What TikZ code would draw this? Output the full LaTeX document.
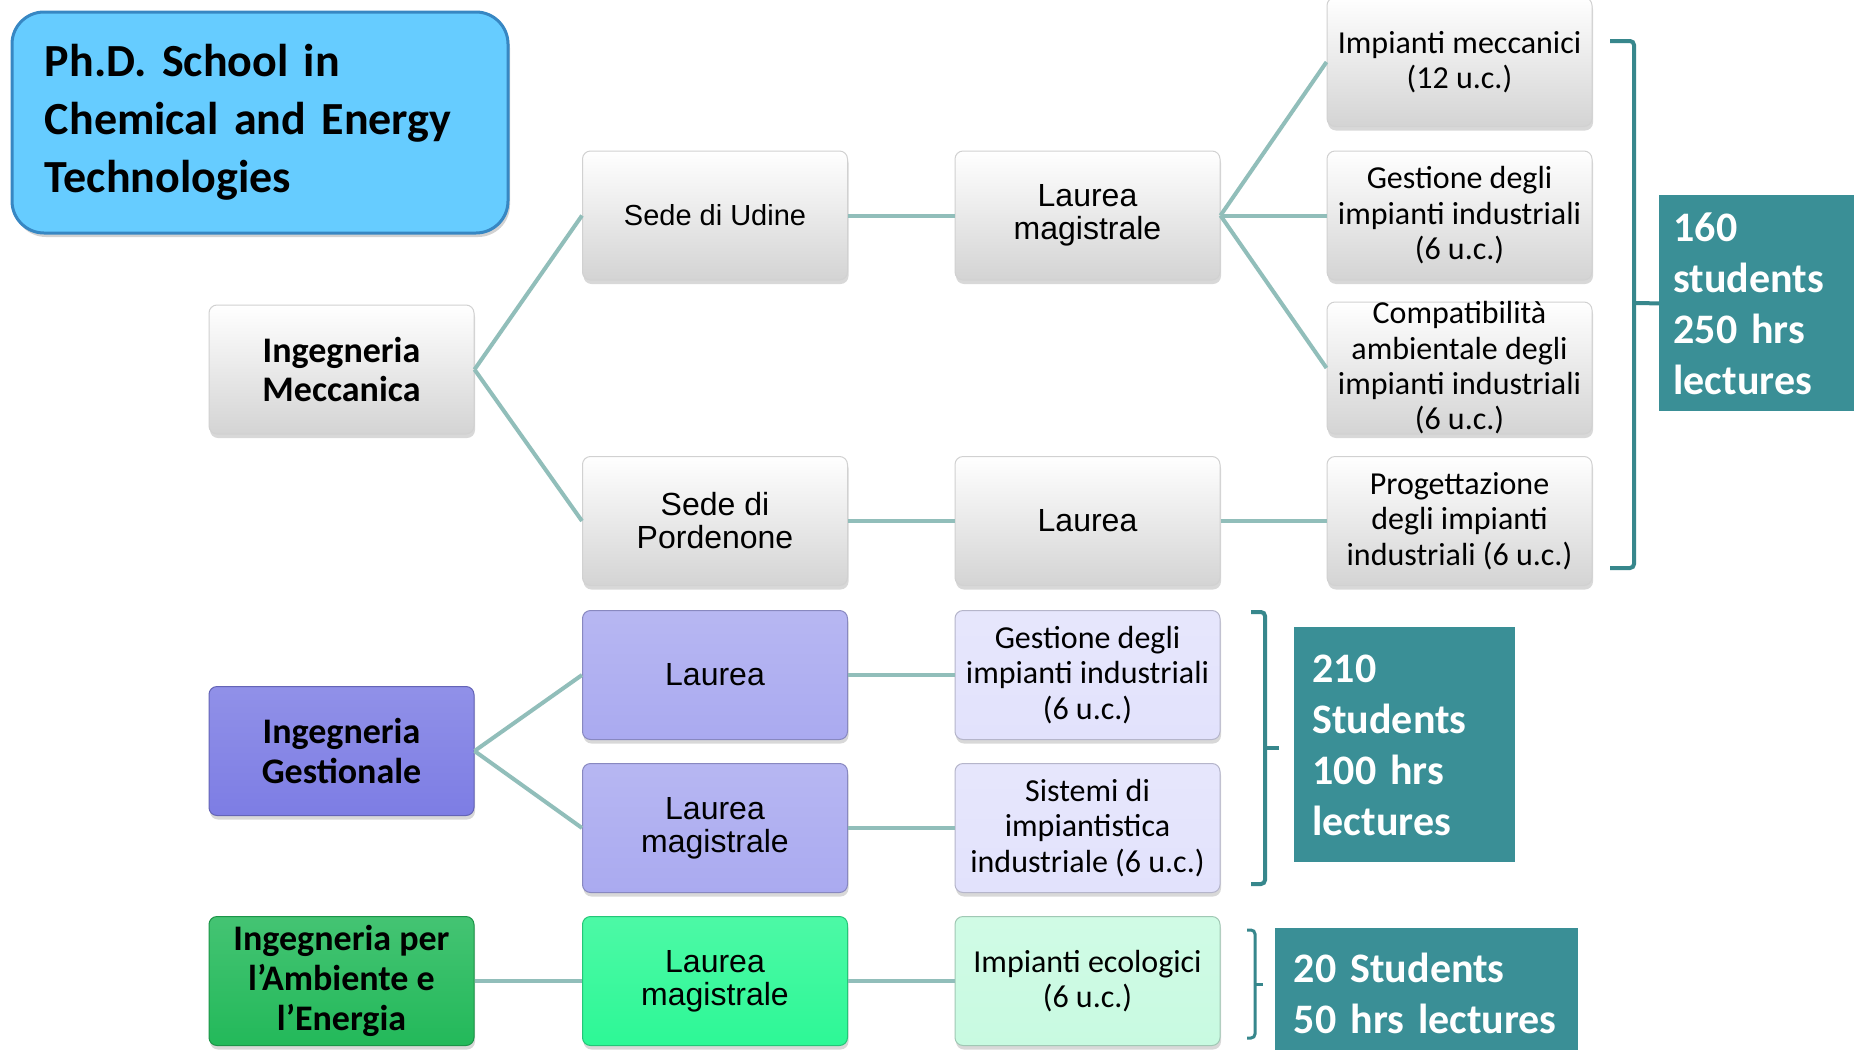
\documentclass[tikz,border=0pt]{standalone}
\usepackage{fontspec}
\setmainfont{Carlito}
\newfontfamily\arialfont{Liberation Sans}
\usetikzlibrary{shadows}

\definecolor{phdfill}{RGB}{102,204,255}
\definecolor{phdedge}{RGB}{55,135,195}
\definecolor{linkcol}{RGB}{145,190,186}
\definecolor{tealbox}{RGB}{58,143,150}
\definecolor{bracketcol}{RGB}{55,135,140}
\definecolor{purpleA}{RGB}{125,125,228}
\definecolor{purpleB}{RGB}{170,170,240}
\definecolor{purpleC}{RGB}{226,226,252}
\definecolor{greenA}{RGB}{35,185,90}
\definecolor{greenB}{RGB}{45,248,150}
\definecolor{greenC}{RGB}{200,250,225}

\begin{document}
\begin{tikzpicture}[x=0.5pt,y=-0.5pt,
  unitbox/.style={rounded corners=4pt, minimum width=132.5pt, minimum height=64.5pt, inner sep=1pt, align=center, line width=0.5pt,
    drop shadow={opacity=0.3, shadow xshift=0.5pt, shadow yshift=-2pt}},
  graybox/.style={unitbox, draw=black!18, top color=white, bottom color=black!17},
  tintbox/.style={unitbox, draw=#1!80!black, top color=#1!85!white, bottom color=#1},
  titlebox/.style={rounded corners=16pt, fill=phdfill, draw=phdedge, line width=1.5pt, minimum width=248pt, minimum height=110.5pt,
    text width=215pt, inner xsep=0pt, align=left, font=\fontsize{23}{29}\selectfont\bfseries,
    drop shadow={opacity=0.35, shadow xshift=1pt, shadow yshift=-2pt}},
  facname/.style={font=\fontsize{18}{19.8}\selectfont\bfseries},
  sansname/.style={font=\arialfont\fontsize{16}{16.5}\selectfont},
  coursename/.style={font=\fontsize{16}{17.7}\selectfont},
  statbox/.style={fill=tealbox, text=white, align=left, anchor=north west, inner ysep=0pt, font=\fontsize{21}{25.5}\selectfont\bfseries},
  link/.style={draw=linkcol, line width=2pt},
  bracket/.style={draw=bracketcol, line width=2pt, rounded corners=2pt}]

\fill[white] (0,0) rectangle (1854,1050);
\useasboundingbox (0,0) rectangle (1854,1050);

% Title
\node[titlebox] (phd) at (260,122.5) {Ph.D. School in\\Chemical and Energy\\Technologies};

% Degree courses
\node[graybox, facname] (mecc) at (341.5,369.5) {Ingegneria\\Meccanica};
\node[tintbox=purpleA, facname] (gest) at (341.5,751) {Ingegneria\\Gestionale};
\node[tintbox=greenA, facname] (amb) at (341.5,981) {Ingegneria per\\l’Ambiente e\\l’Energia};

% Seats and levels
\node[graybox, sansname] (udine) at (715,215.5) {\fontsize{14.5}{16.5}\selectfont Sede di Udine};
\node[graybox, sansname] (porde) at (715,521) {Sede di\\Pordenone};
\node[tintbox=purpleB, sansname] (gestL) at (715,675) {Laurea};
\node[tintbox=purpleB, sansname] (gestLM) at (715,828) {Laurea\\magistrale};
\node[tintbox=greenB, sansname] (ambLM) at (715,981) {Laurea\\magistrale};

\node[graybox, sansname] (udineLM) at (1087.5,215.5) {Laurea\\magistrale};
\node[graybox, sansname] (pordeL) at (1087.5,521) {Laurea};

% Lectures
\node[tintbox=purpleC, coursename] (gestC1) at (1087.5,675) {Gestione degli\\impianti industriali\\(6 u.c.)};
\node[tintbox=purpleC, coursename] (gestC2) at (1087.5,828) {Sistemi di\\impiantistica\\industriale (6 u.c.)};
\node[tintbox=greenC, coursename] (ambC) at (1087.5,981) {Impianti ecologici\\(6 u.c.)};

\node[graybox, coursename] (meccC1) at (1459.5,62) {Impianti meccanici\\(12 u.c.)};
\node[graybox, coursename] (meccC2) at (1459.5,215.5) {Gestione degli\\impianti industriali\\(6 u.c.)};
\node[graybox, coursename, minimum height=66pt, inner ysep=-2pt] (meccC3) at (1459.5,368) {Compatibilità\\ambientale degli\\impianti industriali\\(6 u.c.)};
\node[graybox, coursename] (meccC4) at (1459.5,521) {Progettazione\\degli impianti\\industriali (6 u.c.)};

% Links
\draw[link] (mecc.east) -- (udine.west);
\draw[link] (mecc.east) -- (porde.west);
\draw[link] (udine.east) -- (udineLM.west);
\draw[link] (porde.east) -- (pordeL.west);
\draw[link] (udineLM.east) -- (meccC1.west);
\draw[link] (udineLM.east) -- (meccC2.west);
\draw[link] (udineLM.east) -- (meccC3.west);
\draw[link] (pordeL.east) -- (meccC4.west);
\draw[link] (gest.east) -- (gestL.west);
\draw[link] (gest.east) -- (gestLM.west);
\draw[link] (gestL.east) -- (gestC1.west);
\draw[link] (gestLM.east) -- (gestC2.west);
\draw[link] (amb.east) -- (ambLM.west);
\draw[link] (ambLM.east) -- (ambC.west);

% Totals
\node[statbox, minimum width=100pt, minimum height=108pt, text width=86pt, inner xsep=7pt] (s160) at (1659,195) {160\\students\\250 hrs\\lectures};
\node[statbox, minimum height=117.5pt, text width=92.5pt, inner xsep=9pt] (s210) at (1294,627) {210\\Students\\100 hrs\\lectures};
\node[statbox, minimum height=65pt, text width=133pt, inner xsep=9.25pt] (s20) at (1275,928) {20 Students\\50 hrs lectures};

% Brackets
\draw[bracket] (1610,41) -- (1634,41) -- (1634,568) -- (1610,568);
\draw[bracket] (1634,303) -- (s160.west);
\draw[bracket] (1251,612) -- (1265,612) -- (1265,884) -- (1251,884);
\draw[bracket] (1265,748) -- (1279,748);
\draw[bracket, line width=1.5pt] (1247,930) -- (1255,930) -- (1255,1038) -- (1247,1038);
\draw[bracket, line width=1.5pt] (1255,984) -- (1263,984);

\end{tikzpicture}
\end{document}
